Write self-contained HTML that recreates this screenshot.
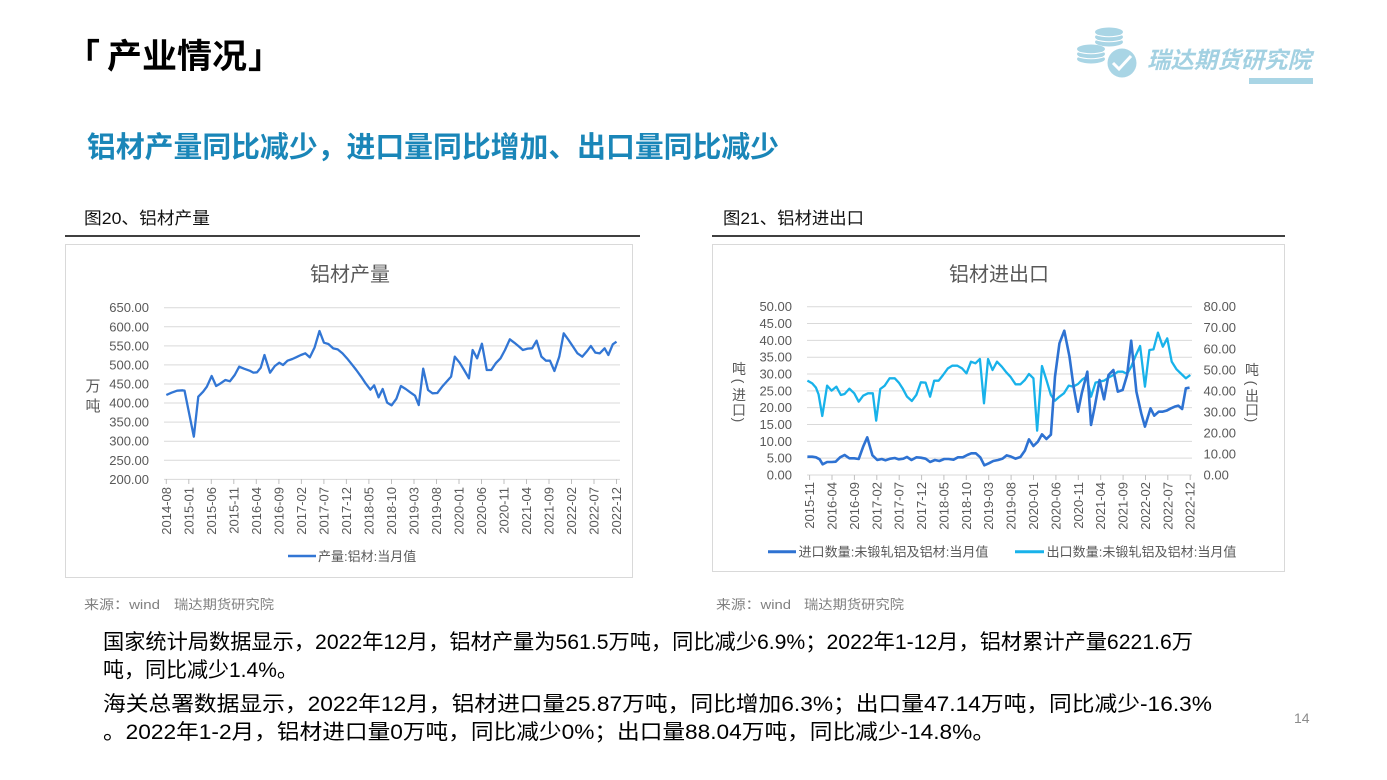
<!DOCTYPE html>
<html><head><meta charset="utf-8"><style>
html,body{margin:0;padding:0;background:#fff;}
svg{display:block;}
text{font-family:"Liberation Sans","Noto Sans CJK SC",sans-serif;}
</style></head><body>
<svg width="1387" height="780" viewBox="0 0 1387 780" xmlns="http://www.w3.org/2000/svg">
<rect width="1387" height="780" fill="#fff"/>

<!-- Header -->
<text x="66" y="68" font-size="34" font-weight="bold" fill="#000">「</text>
<text x="107" y="68" font-size="34" font-weight="bold" fill="#000" textLength="140" lengthAdjust="spacingAndGlyphs">产业情况</text>
<text x="248" y="68" font-size="34" font-weight="bold" fill="#000">」</text>

<!-- Logo -->
<g fill="#A9D5E5">
  <ellipse cx="1109" cy="42" rx="14" ry="4.5"/>
  <ellipse cx="1109" cy="37" rx="14" ry="4.5"/>
  <ellipse cx="1109" cy="32" rx="14" ry="4.5"/>
  <ellipse cx="1091" cy="59" rx="14" ry="4.5"/>
  <ellipse cx="1091" cy="54" rx="14" ry="4.5"/>
  <ellipse cx="1091" cy="49" rx="14" ry="4.5"/>
</g>
<g stroke="#fff" stroke-width="1" fill="none">
  <path d="M1095 39.5 Q1109 44 1123 39.5"/><path d="M1095 34.5 Q1109 39 1123 34.5"/>
  <path d="M1077 56.5 Q1091 61 1105 56.5"/><path d="M1077 51.5 Q1091 56 1105 51.5"/>
</g>
<circle cx="1122" cy="63" r="16" fill="#fff"/>
<circle cx="1122" cy="63" r="14.5" fill="#A9D5E5"/>
<path d="M1113 63 L1119 69 L1131 56" stroke="#fff" stroke-width="3" fill="none"/>
<text x="1147" y="68" font-size="23" font-weight="bold" font-style="italic" fill="#A3D1E2" textLength="164" lengthAdjust="spacingAndGlyphs">瑞达期货研究院</text>
<rect x="1249" y="78" width="64" height="6" fill="#A9D5E5"/>

<!-- Heading -->
<text x="87" y="157" font-size="29" font-weight="bold" fill="#1A86B8" textLength="692" lengthAdjust="spacingAndGlyphs">铝材产量同比减少，进口量同比增加、出口量同比减少</text>

<!-- Captions -->
<text x="84" y="224" font-size="17" fill="#111" textLength="126" lengthAdjust="spacingAndGlyphs">图20、铝材产量</text>
<line x1="65" y1="236" x2="640" y2="236" stroke="#000" stroke-width="1.5"/>
<text x="723" y="224" font-size="17" fill="#111" textLength="141" lengthAdjust="spacingAndGlyphs">图21、铝材进出口</text>
<line x1="712" y1="236" x2="1285" y2="236" stroke="#000" stroke-width="1.5"/>

<!-- Chart 1 -->
<rect x="65.5" y="244.5" width="567" height="333" fill="#fff" stroke="#d9d9d9" stroke-width="1"/>
<text x="350" y="281" font-size="20" fill="#595959" text-anchor="middle">铝材产量</text>
<g stroke="#d9d9d9" stroke-width="1">
  <line x1="164" y1="307.7" x2="620" y2="307.7"/>
  <line x1="164" y1="326.77" x2="620" y2="326.77"/>
  <line x1="164" y1="345.84" x2="620" y2="345.84"/>
  <line x1="164" y1="364.91" x2="620" y2="364.91"/>
  <line x1="164" y1="383.98" x2="620" y2="383.98"/>
  <line x1="164" y1="403.05" x2="620" y2="403.05"/>
  <line x1="164" y1="422.12" x2="620" y2="422.12"/>
  <line x1="164" y1="441.19" x2="620" y2="441.19"/>
  <line x1="164" y1="460.26" x2="620" y2="460.26"/>
  <line x1="164" y1="479.33" x2="620" y2="479.33"/>
</g>
<g stroke="#bfbfbf" stroke-width="1">
  <line x1="166.3" y1="479" x2="166.3" y2="484"/><line x1="188.8" y1="479" x2="188.8" y2="484"/><line x1="211.3" y1="479" x2="211.3" y2="484"/><line x1="233.8" y1="479" x2="233.8" y2="484"/><line x1="256.3" y1="479" x2="256.3" y2="484"/><line x1="278.9" y1="479" x2="278.9" y2="484"/><line x1="301.4" y1="479" x2="301.4" y2="484"/><line x1="323.9" y1="479" x2="323.9" y2="484"/><line x1="346.4" y1="479" x2="346.4" y2="484"/><line x1="368.9" y1="479" x2="368.9" y2="484"/><line x1="391.5" y1="479" x2="391.5" y2="484"/><line x1="414" y1="479" x2="414" y2="484"/><line x1="436.5" y1="479" x2="436.5" y2="484"/><line x1="459" y1="479" x2="459" y2="484"/><line x1="481.5" y1="479" x2="481.5" y2="484"/><line x1="504" y1="479" x2="504" y2="484"/><line x1="526.5" y1="479" x2="526.5" y2="484"/><line x1="549" y1="479" x2="549" y2="484"/><line x1="571.5" y1="479" x2="571.5" y2="484"/><line x1="594" y1="479" x2="594" y2="484"/><line x1="616.5" y1="479" x2="616.5" y2="484"/>
</g>
<g font-size="13" fill="#595959" text-anchor="end">
  <text x="149" y="312.2">650.00</text>
  <text x="149" y="331.3">600.00</text>
  <text x="149" y="350.3">550.00</text>
  <text x="149" y="369.4">500.00</text>
  <text x="149" y="388.5">450.00</text>
  <text x="149" y="407.6">400.00</text>
  <text x="149" y="426.6">350.00</text>
  <text x="149" y="445.7">300.00</text>
  <text x="149" y="464.8">250.00</text>
  <text x="149" y="483.8">200.00</text>
</g>
<text x="93" y="391" font-size="15" fill="#595959" text-anchor="middle">万</text>
<text x="93" y="411" font-size="15" fill="#595959" text-anchor="middle">吨</text>
<g font-size="13" fill="#595959" text-anchor="end">
  <text transform="translate(170.8,487) rotate(-90)">2014-08</text>
  <text transform="translate(193.3,487) rotate(-90)">2015-01</text>
  <text transform="translate(215.8,487) rotate(-90)">2015-06</text>
  <text transform="translate(238.3,487) rotate(-90)">2015-11</text>
  <text transform="translate(260.8,487) rotate(-90)">2016-04</text>
  <text transform="translate(283.4,487) rotate(-90)">2016-09</text>
  <text transform="translate(305.9,487) rotate(-90)">2017-02</text>
  <text transform="translate(328.4,487) rotate(-90)">2017-07</text>
  <text transform="translate(350.9,487) rotate(-90)">2017-12</text>
  <text transform="translate(373.4,487) rotate(-90)">2018-05</text>
  <text transform="translate(396,487) rotate(-90)">2018-10</text>
  <text transform="translate(418.5,487) rotate(-90)">2019-03</text>
  <text transform="translate(441,487) rotate(-90)">2019-08</text>
  <text transform="translate(463.5,487) rotate(-90)">2020-01</text>
  <text transform="translate(486,487) rotate(-90)">2020-06</text>
  <text transform="translate(508.5,487) rotate(-90)">2020-11</text>
  <text transform="translate(531,487) rotate(-90)">2021-04</text>
  <text transform="translate(553.5,487) rotate(-90)">2021-09</text>
  <text transform="translate(576,487) rotate(-90)">2022-02</text>
  <text transform="translate(598.5,487) rotate(-90)">2022-07</text>
  <text transform="translate(621,487) rotate(-90)">2022-12</text>
</g>
<g transform="translate(60,240) scale(0.37175,0.33333)">
<polyline fill="none" stroke="#3276D4" stroke-width="2.3" vector-effect="non-scaling-stroke" stroke-linejoin="round" points="286,465 300,458 315,452 330,451 335,452 360,590 372,470 385,455 395,440 408,408 420,438 432,430 445,420 457,424 470,405 482,380 495,386 510,392 520,398 530,397 540,383 550,345 565,398 578,378 590,368 600,375 612,362 625,357 635,352 648,345 660,340 672,352 685,322 698,273 710,308 722,312 735,325 747,328 760,340 772,355 785,373 797,390 810,410 822,430 835,449 845,436 857,472 868,447 880,488 892,496 905,476 917,438 930,447 942,457 955,467 965,495 977,386 990,450 1002,460 1015,459 1028,440 1040,425 1052,410 1062,350 1075,368 1087,390 1100,415 1110,330 1122,355 1135,311 1148,390 1160,390 1172,370 1185,355 1197,330 1210,298 1222,308 1235,320 1245,330 1258,326 1270,325 1282,302 1295,350 1307,362 1318,362 1330,393 1343,350 1355,280 1368,300 1380,320 1392,340 1405,350 1418,333 1428,318 1440,338 1452,340 1465,325 1475,345 1487,313 1497,305"/>
</g>
<line x1="288" y1="556" x2="316" y2="556" stroke="#3276D4" stroke-width="2.5"/>
<text x="318" y="561" font-size="13" fill="#595959">产量:铝材:当月值</text>
<text x="84" y="609" font-size="13" fill="#808080" textLength="76" lengthAdjust="spacingAndGlyphs">来源：wind</text>
<text x="174" y="609" font-size="13" fill="#808080" textLength="100" lengthAdjust="spacingAndGlyphs">瑞达期货研究院</text>

<!-- Chart 2 -->
<rect x="712.5" y="244.5" width="572" height="327" fill="#fff" stroke="#d9d9d9" stroke-width="1"/>
<text x="999" y="281" font-size="20" fill="#595959" text-anchor="middle">铝材进出口</text>
<g stroke="#d9d9d9" stroke-width="1">
  <line x1="807" y1="306.7" x2="1192" y2="306.7"/>
  <line x1="807" y1="323.53" x2="1192" y2="323.53"/>
  <line x1="807" y1="340.36" x2="1192" y2="340.36"/>
  <line x1="807" y1="357.19" x2="1192" y2="357.19"/>
  <line x1="807" y1="374.02" x2="1192" y2="374.02"/>
  <line x1="807" y1="390.85" x2="1192" y2="390.85"/>
  <line x1="807" y1="407.68" x2="1192" y2="407.68"/>
  <line x1="807" y1="424.51" x2="1192" y2="424.51"/>
  <line x1="807" y1="441.34" x2="1192" y2="441.34"/>
  <line x1="807" y1="458.17" x2="1192" y2="458.17"/>
  <line x1="807" y1="475" x2="1192" y2="475"/>
</g>
<g stroke="#bfbfbf" stroke-width="1">
  <line x1="809.6" y1="475" x2="809.6" y2="480"/><line x1="832" y1="475" x2="832" y2="480"/><line x1="854.4" y1="475" x2="854.4" y2="480"/><line x1="876.8" y1="475" x2="876.8" y2="480"/><line x1="899.2" y1="475" x2="899.2" y2="480"/><line x1="921.6" y1="475" x2="921.6" y2="480"/><line x1="943.9" y1="475" x2="943.9" y2="480"/><line x1="966.3" y1="475" x2="966.3" y2="480"/><line x1="988.7" y1="475" x2="988.7" y2="480"/><line x1="1011.1" y1="475" x2="1011.1" y2="480"/><line x1="1033.5" y1="475" x2="1033.5" y2="480"/><line x1="1055.9" y1="475" x2="1055.9" y2="480"/><line x1="1078.3" y1="475" x2="1078.3" y2="480"/><line x1="1100.7" y1="475" x2="1100.7" y2="480"/><line x1="1123.1" y1="475" x2="1123.1" y2="480"/><line x1="1145.5" y1="475" x2="1145.5" y2="480"/><line x1="1167.8" y1="475" x2="1167.8" y2="480"/><line x1="1190.2" y1="475" x2="1190.2" y2="480"/>
</g>
<g font-size="13" fill="#595959" text-anchor="end">
  <text x="792" y="311.2">50.00</text>
  <text x="792" y="328">45.00</text>
  <text x="792" y="344.9">40.00</text>
  <text x="792" y="361.7">35.00</text>
  <text x="792" y="378.5">30.00</text>
  <text x="792" y="395.4">25.00</text>
  <text x="792" y="412.2">20.00</text>
  <text x="792" y="429">15.00</text>
  <text x="792" y="445.8">10.00</text>
  <text x="792" y="462.7">5.00</text>
  <text x="792" y="479.5">0.00</text>
</g>
<g font-size="13" fill="#595959">
  <text x="1203.5" y="311.2">80.00</text>
  <text x="1203.5" y="332.2">70.00</text>
  <text x="1203.5" y="353.3">60.00</text>
  <text x="1203.5" y="374.3">50.00</text>
  <text x="1203.5" y="395.4">40.00</text>
  <text x="1203.5" y="416.4">30.00</text>
  <text x="1203.5" y="437.4">20.00</text>
  <text x="1203.5" y="458.5">10.00</text>
  <text x="1203.5" y="479.5">0.00</text>
</g>
<!-- left axis title: 吨（进口） vertical -->
<g font-size="14" fill="#595959" text-anchor="middle">
  <text x="739" y="374">吨</text>
  <text x="739" y="381" transform="rotate(90 739 381)" dominant-baseline="central">(</text>
  <text x="739" y="400">进</text>
  <text x="739" y="415">口</text>
  <text x="739" y="420" transform="rotate(90 739 420)" dominant-baseline="central">)</text>
</g>
<!-- right axis title: 吨（出口） vertical -->
<g font-size="14" fill="#595959" text-anchor="middle">
  <text x="1252" y="375">吨</text>
  <text x="1252" y="383" transform="rotate(90 1252 383)" dominant-baseline="central">(</text>
  <text x="1252" y="401">出</text>
  <text x="1252" y="415">口</text>
  <text x="1252" y="420" transform="rotate(90 1252 420)" dominant-baseline="central">)</text>
</g>
<g font-size="13" fill="#595959" text-anchor="end">
  <text transform="translate(814.1,482) rotate(-90)">2015-11</text>
  <text transform="translate(836.5,482) rotate(-90)">2016-04</text>
  <text transform="translate(858.9,482) rotate(-90)">2016-09</text>
  <text transform="translate(881.3,482) rotate(-90)">2017-02</text>
  <text transform="translate(903.7,482) rotate(-90)">2017-07</text>
  <text transform="translate(926.1,482) rotate(-90)">2017-12</text>
  <text transform="translate(948.4,482) rotate(-90)">2018-05</text>
  <text transform="translate(970.8,482) rotate(-90)">2018-10</text>
  <text transform="translate(993.2,482) rotate(-90)">2019-03</text>
  <text transform="translate(1015.6,482) rotate(-90)">2019-08</text>
  <text transform="translate(1038,482) rotate(-90)">2020-01</text>
  <text transform="translate(1060.4,482) rotate(-90)">2020-06</text>
  <text transform="translate(1082.8,482) rotate(-90)">2020-11</text>
  <text transform="translate(1105.2,482) rotate(-90)">2021-04</text>
  <text transform="translate(1127.6,482) rotate(-90)">2021-09</text>
  <text transform="translate(1150,482) rotate(-90)">2022-02</text>
  <text transform="translate(1172.3,482) rotate(-90)">2022-07</text>
  <text transform="translate(1194.7,482) rotate(-90)">2022-12</text>
</g>
<g transform="translate(710,240) scale(0.37175,0.33333)">
<polyline fill="none" stroke="#18B2EA" stroke-width="2.3" vector-effect="non-scaling-stroke" stroke-linejoin="round" points="262,422 275,430 285,443 292,463 302,528 315,437 327,452 340,440 352,465 362,462 375,446 388,460 400,485 412,467 425,460 438,460 447,542 458,447 470,437 483,415 497,415 508,428 518,445 530,470 543,483 555,465 567,427 580,428 592,470 603,422 615,422 627,405 640,385 652,377 665,377 678,385 690,400 702,365 714,370 726,357 737,490 748,357 760,390 772,365 785,380 797,397 808,410 822,433 835,433 847,420 858,402 870,415 880,572 893,378 905,420 917,465 928,482 940,470 952,460 965,437 977,440 990,432 1002,418 1013,410 1025,470 1037,428 1048,425 1060,422 1072,413 1085,405 1097,395 1110,395 1122,402 1133,380 1145,347 1157,318 1170,440 1182,330 1193,328 1205,278 1218,320 1230,295 1242,365 1255,388 1268,402 1280,415 1292,405"/>
<polyline fill="none" stroke="#2E72D2" stroke-width="2.6" vector-effect="non-scaling-stroke" stroke-linejoin="round" points="262,650 275,650 285,652 295,658 303,673 315,666 328,666 338,665 350,652 362,645 375,655 388,655 400,657 412,620 423,592 437,646 450,660 462,657 472,661 485,656 497,654 508,658 520,656 530,651 542,660 555,652 567,653 580,656 592,666 605,660 617,663 630,657 642,657 655,659 667,652 680,652 692,645 703,640 715,640 727,652 738,676 750,670 762,663 775,660 787,656 798,646 810,650 822,656 835,651 847,632 858,598 870,618 882,605 893,583 905,597 917,584 928,410 940,310 953,272 967,350 978,440 990,515 1000,460 1015,395 1025,555 1035,500 1048,420 1060,478 1072,405 1085,390 1097,455 1110,450 1122,405 1133,302 1147,455 1160,520 1170,560 1185,505 1195,527 1207,515 1218,515 1228,512 1240,505 1250,500 1260,497 1270,507 1280,445 1290,443"/>
</g>
<line x1="768" y1="551.7" x2="796" y2="551.7" stroke="#2E72D2" stroke-width="3"/>
<text x="798.5" y="556.5" font-size="13" fill="#595959" textLength="190" lengthAdjust="spacingAndGlyphs">进口数量:未锻轧铝及铝材:当月值</text>
<line x1="1015" y1="551.7" x2="1044" y2="551.7" stroke="#18B2EA" stroke-width="3"/>
<text x="1046.5" y="556.5" font-size="13" fill="#595959" textLength="190" lengthAdjust="spacingAndGlyphs">出口数量:未锻轧铝及铝材:当月值</text>
<text x="716" y="609" font-size="13" fill="#808080" textLength="75" lengthAdjust="spacingAndGlyphs">来源：wind</text>
<text x="804" y="609" font-size="13" fill="#808080" textLength="100" lengthAdjust="spacingAndGlyphs">瑞达期货研究院</text>

<!-- Body text -->
<text x="103" y="649" font-size="21" fill="#000" textLength="1090" lengthAdjust="spacingAndGlyphs">国家统计局数据显示，2022年12月，铝材产量为561.5万吨，同比减少6.9%；2022年1-12月，铝材累计产量6221.6万</text>
<text x="103" y="677" font-size="21" fill="#000">吨，同比减少1.4%。</text>
<text x="103" y="711" font-size="21" fill="#000" textLength="1109" lengthAdjust="spacingAndGlyphs">海关总署数据显示，2022年12月，铝材进口量25.87万吨，同比增加6.3%；出口量47.14万吨，同比减少-16.3%</text>
<text x="103" y="739" font-size="21" fill="#000" textLength="892" lengthAdjust="spacingAndGlyphs">。2022年1-2月，铝材进口量0万吨，同比减少0%；出口量88.04万吨，同比减少-14.8%。</text>

<text x="1294" y="723" font-size="14" fill="#8c8c8c">14</text>
</svg>
</body></html>
